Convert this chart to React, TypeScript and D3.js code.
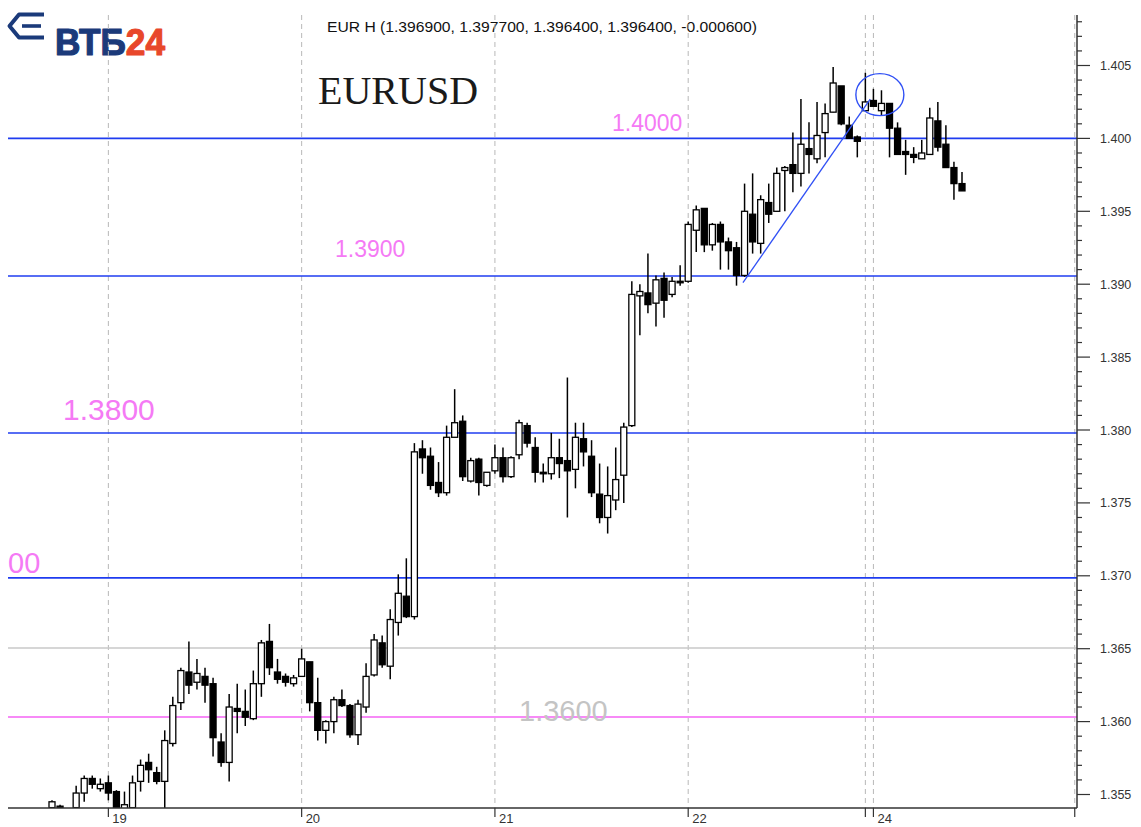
import React from "react";
import * as d3 from "d3";

// Hourly EURUSD candles (index = hour slot)
const opens = [1.3541,1.3542,1.3538,1.3541,1.3551,1.3561,1.3554,1.3558,1.3552,1.3540,1.3541,1.3559,1.3572,1.3565,1.3559,1.3585,1.3613,1.3634,1.3627,1.3631,1.3626,1.3586,1.3572,1.3609,1.3607,1.3602,1.3626,1.3655,1.3634,1.3631,1.3626,1.3631,1.3641,1.3613,1.3594,1.3600,1.3615,1.3611,1.3591,1.3610,1.3632,1.3654,1.3638,1.3668,1.3686,1.3672,1.3787,1.3782,1.3764,1.3757,1.3795,1.3806,1.3765,1.3780,1.3762,1.3772,1.3781,1.3768,1.3783,1.3803,1.3788,1.3771,1.3770,1.3781,1.3779,1.3773,1.3794,1.3782,1.3756,1.3740,1.3752,1.3769,1.3803,1.3892,1.3894,1.3887,1.3904,1.3893,1.3902,1.3902,1.3937,1.3952,1.3927,1.3941,1.3929,1.3925,1.3906,1.3948,1.3928,1.3956,1.3950,1.3978,1.3982,1.3976,1.3993,1.3986,1.4004,1.4018,1.4036,1.4009,1.4001,1.4019,1.4026,1.4019,1.4024,1.4007,1.3991,1.3989,1.3986,1.3989,1.4012,1.3996,1.3980,1.3969];
const highs = [1.3546,1.3543,1.3539,1.3556,1.3563,1.3563,1.3561,1.3563,1.3553,1.3552,1.3563,1.3574,1.3578,1.3569,1.3594,1.3617,1.3637,1.3655,1.3643,1.3637,1.3630,1.3592,1.3619,1.3626,1.3622,1.3635,1.3656,1.3667,1.3643,1.3633,1.3632,1.3650,1.3641,1.3630,1.3601,1.3617,1.3622,1.3612,1.3615,1.3640,1.3660,1.3659,1.3677,1.3701,1.3712,1.3791,1.3793,1.3788,1.3778,1.3803,1.3828,1.3810,1.3781,1.3781,1.3771,1.3790,1.3788,1.3782,1.3807,1.3805,1.3795,1.3777,1.3798,1.3794,1.3836,1.3805,1.3805,1.3793,1.3777,1.3775,1.3788,1.3805,1.3902,1.3900,1.3921,1.3906,1.3908,1.3905,1.3913,1.3943,1.3954,1.3952,1.3942,1.3943,1.3932,1.3929,1.3969,1.3976,1.3961,1.3969,1.3980,1.3981,1.4004,1.4027,1.4011,1.4025,1.4024,1.4049,1.4036,1.4015,1.4002,1.4045,1.4034,1.4033,1.4024,1.4011,1.3999,1.3994,1.3999,1.4021,1.4025,1.4009,1.3984,1.3977];
const lows = [1.3538,1.3538,1.3535,1.3538,1.3545,1.3554,1.3552,1.3546,1.3535,1.3537,1.3538,1.3552,1.3558,1.3557,1.3540,1.3583,1.3608,1.3619,1.3622,1.3613,1.3576,1.3569,1.3559,1.3592,1.3597,1.3601,1.3617,1.3632,1.3626,1.3624,1.3624,1.3631,1.3607,1.3587,1.3585,1.3592,1.3610,1.3589,1.3584,1.3606,1.3631,1.3637,1.3629,1.3659,1.3671,1.3670,1.3770,1.3759,1.3754,1.3755,1.3795,1.3765,1.3764,1.3755,1.3761,1.3770,1.3764,1.3767,1.3780,1.3788,1.3764,1.3764,1.3766,1.3767,1.3740,1.3760,1.3775,1.3754,1.3736,1.3729,1.3745,1.3750,1.3802,1.3865,1.3880,1.3871,1.3877,1.3891,1.3899,1.3901,1.3922,1.3922,1.3923,1.3910,1.3910,1.3899,1.3905,1.3921,1.3921,1.3942,1.3950,1.3950,1.3963,1.3967,1.3976,1.3983,1.3987,1.4018,1.4009,1.4000,1.3987,1.4019,1.4022,1.4016,1.3987,1.3989,1.3975,1.3983,1.3986,1.3989,1.3991,1.3980,1.3958,1.3964];
const closes = [1.3545,1.3541,1.3537,1.3551,1.3561,1.3557,1.3557,1.3551,1.3538,1.3543,1.3558,1.3570,1.3567,1.3559,1.3587,1.3611,1.3635,1.3625,1.3633,1.3625,1.3589,1.3572,1.3610,1.3607,1.3603,1.3626,1.3654,1.3637,1.3629,1.3627,1.3630,1.3643,1.3613,1.3594,1.3600,1.3615,1.3611,1.3591,1.3612,1.3631,1.3656,1.3639,1.3670,1.3688,1.3672,1.3785,1.3781,1.3762,1.3757,1.3795,1.3805,1.3768,1.3779,1.3764,1.3771,1.3781,1.3768,1.3781,1.3805,1.3791,1.3771,1.3770,1.3781,1.3777,1.3772,1.3795,1.3785,1.3757,1.3740,1.3755,1.3766,1.3802,1.3893,1.3895,1.3886,1.3903,1.3889,1.3902,1.3901,1.3941,1.3951,1.3927,1.3941,1.3929,1.3923,1.3906,1.3950,1.3929,1.3958,1.3948,1.3976,1.3980,1.3976,1.3996,1.3989,1.4002,1.4017,1.4038,1.4010,1.4000,1.3998,1.4025,1.4022,1.4024,1.4007,1.3989,1.3989,1.3987,1.3990,1.4014,1.3994,1.3980,1.3969,1.3964];

// Day separators (hour slot) and labels
const dayIndex = [7, 31, 55, 79, 101, 102, 127];
const dayLabels = ["19", "20", "21", "22", "", "24", ""];

// Y axis ticks
const yMajorTicks = [1.355, 1.36, 1.365, 1.37, 1.375, 1.38, 1.385, 1.39, 1.395, 1.4, 1.405];
const yTickLabels = ["1.355", "1.360", "1.365", "1.370", "1.375", "1.380", "1.385", "1.390", "1.395", "1.400", "1.405"];
const yMinorTicks = [1.356,1.357,1.358,1.359,1.361,1.362,1.363,1.364,1.366,1.367,1.368,1.369,1.371,1.372,1.373,1.374,1.376,1.377,1.378,1.379,1.381,1.382,1.383,1.384,1.386,1.387,1.388,1.389,1.391,1.392,1.393,1.394,1.396,1.397,1.398,1.399,1.401,1.402,1.403,1.404,1.406,1.407,1.408];

// Horizontal levels drawn on chart
const levelValues = [1.4000, 1.39056, 1.37979, 1.36986, 1.36505, 1.36032];
const levelKinds = ["blue", "blue", "blue", "blue", "grey", "pink"];

// Level annotations
const levelTexts = ["1.4000", "1.3900", "1.3800", "00", "1.3600"];

// Trend line & highlight ellipse (hour slot, price)
const trendIdx = [85.8, 101.6];
const trendVal = [1.3901, 1.4027];
const circleIdx = 102.8;
const circleVal = 1.4030;

const header = "EUR H (1.396900, 1.397700, 1.396400, 1.396400, -0.000600)";

const W = 1141;
const H = 827;
const LEFT = 8;
const RIGHT = 1077;
const TOP = 15;
const BOTTOM = 808;

export default function App() {
  const x = d3.scaleLinear().domain([0, 113]).range([52, 962]);
  const y = d3.scaleLinear().domain([1.355, 1.405]).range([794.5, 65.5]);

  const kindColor: Record<string, string> = { blue: "#1f3cf0", grey: "#c8c8c8", pink: "#f78af7" };
  const kindWidth: Record<string, number> = { blue: 1.6, grey: 1.4, pink: 2 };

  const labelPos = [
    { x: 612, dy: -7, size: 23, color: "#f57af5" },
    { x: 335, dy: -19, size: 23, color: "#f57af5" },
    { x: 63, dy: -13, size: 30, color: "#f57af5" },
    { x: 8, dy: -5, size: 29, color: "#f57af5" },
    { x: 519, dy: 4, size: 29, color: "#c4c4c4" },
  ];
  const labelLevel = [0, 1, 2, 3, 5];

  const trend = d3.line<number>()
    .x((_, i) => x(trendIdx[i]))
    .y((d) => y(d));

  const font = "'Liberation Sans', Arial, Helvetica, sans-serif";

  return (
    <svg
      width={W}
      height={H}
      style={{ position: "absolute", left: 0, top: 0, background: "#fff" }}
      fontFamily={font}
    >
      <defs>
        <clipPath id="plot">
          <rect x={LEFT} y={TOP} width={RIGHT - LEFT} height={BOTTOM - TOP} />
        </clipPath>
      </defs>
      <rect x={0} y={0} width={W} height={H} fill="#ffffff" />

      {/* Logo */}
      <g>
        <path d="M44 14.5 H19 L9.5 26 L19 37.5 H44" fill="none" stroke="#1b3a7a" strokeWidth={4} strokeLinejoin="round" />
        <path d="M22 26 H41" fill="none" stroke="#1b3a7a" strokeWidth={3.6} />
        <text x={55} y={55} fontSize={37} fontWeight="bold" fontFamily={font} textLength={110} lengthAdjust="spacingAndGlyphs" strokeWidth={1.2} strokeLinejoin="round">
          <tspan fill="#1b3a7a" stroke="#1b3a7a">ВТБ</tspan>
          <tspan fill="#e8472b" stroke="#e8472b">24</tspan>
        </text>
      </g>

      {/* Header */}
      <text x={327} y={32} fontSize={15} fill="#111" textLength={430} lengthAdjust="spacingAndGlyphs">{header}</text>

      {/* Vertical dashed day gridlines */}
      {dayIndex.map((d, i) => (
        <line key={"g" + i} x1={x(d)} x2={x(d)} y1={TOP} y2={BOTTOM} stroke="#b8b8b8" strokeWidth={1} strokeDasharray="5,4" />
      ))}

      {/* Title */}
      <text x={318} y={104} fontSize={40} fontFamily="'Liberation Serif', 'Times New Roman', serif" fill="#1a1a1a">EURUSD</text>

      {/* Horizontal levels */}
      {levelValues.map((v, i) => (
        <line key={"l" + i} x1={LEFT} x2={RIGHT} y1={y(v)} y2={y(v)} stroke={kindColor[levelKinds[i]]} strokeWidth={kindWidth[levelKinds[i]]} />
      ))}

      {/* Level annotation texts */}
      {levelTexts.map((t, i) => (
        <text key={"t" + i} x={labelPos[i].x} y={y(levelValues[labelLevel[i]]) + labelPos[i].dy} fontSize={labelPos[i].size} fill={labelPos[i].color}>{t}</text>
      ))}

      {/* Candles */}
      <g clipPath="url(#plot)">
        {opens.map((o, i) => {
          const c = closes[i];
          const up = c >= o;
          const cx = x(i);
          const top = y(Math.max(o, c));
          const bot = y(Math.min(o, c));
          return (
            <g key={"c" + i}>
              <line x1={cx} x2={cx} y1={y(highs[i])} y2={y(lows[i])} stroke="#000" strokeWidth={1.5} />
              <rect x={cx - 3} y={top} width={6} height={Math.max(bot - top, 1.5)} fill={up ? "#fff" : "#000"} stroke="#000" strokeWidth={1.3} />
            </g>
          );
        })}
        {/* Trend line */}
        <path d={trend(trendVal) || ""} fill="none" stroke="#3050f5" strokeWidth={1.3} />
        {/* Highlight ellipse */}
        <ellipse cx={x(circleIdx)} cy={y(circleVal)} rx={24} ry={21} fill="none" stroke="#3050f5" strokeWidth={1.4} />
      </g>

      {/* Axes */}
      <line x1={LEFT} x2={RIGHT} y1={BOTTOM} y2={BOTTOM} stroke="#333" strokeWidth={1.5} />
      <line x1={RIGHT} x2={RIGHT} y1={TOP} y2={BOTTOM} stroke="#333" strokeWidth={1.5} />

      {yMinorTicks.filter((v) => y(v) >= TOP).map((v, i) => (
        <line key={"mi" + i} x1={RIGHT} x2={RIGHT + 5} y1={y(v)} y2={y(v)} stroke="#333" strokeWidth={1.2} />
      ))}
      {yMajorTicks.map((v, i) => (
        <g key={"ma" + i}>
          <line x1={RIGHT} x2={RIGHT + 13} y1={y(v)} y2={y(v)} stroke="#333" strokeWidth={1.2} />
          <text x={1100} y={y(v)} dy="0.36em" fontSize={12.5} fill="#333">{yTickLabels[i]}</text>
        </g>
      ))}

      {dayIndex.map((d, i) => (
        <g key={"xt" + i}>
          <line x1={x(d)} x2={x(d)} y1={BOTTOM} y2={BOTTOM + 9} stroke="#333" strokeWidth={1.2} />
          {dayLabels[i] && (
            <text x={x(d) + 4} y={823} fontSize={13} fill="#333">{dayLabels[i]}</text>
          )}
        </g>
      ))}
    </svg>
  );
}
